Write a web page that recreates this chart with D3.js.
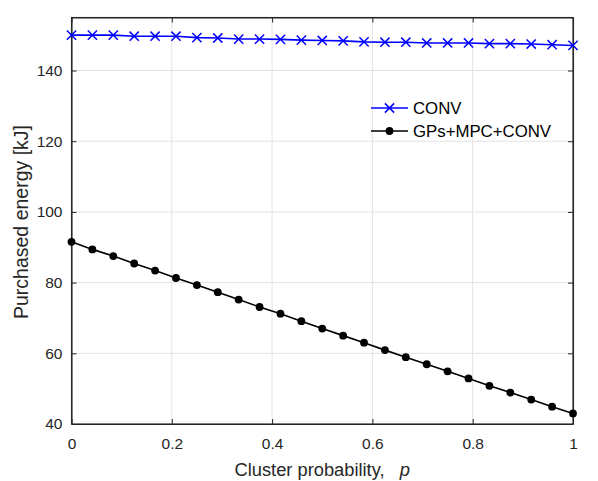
<!DOCTYPE html>
<html><head><meta charset="utf-8">
<script src="https://cdn.jsdelivr.net/npm/d3@7"></script>
<style>body{margin:0;background:#fff}svg{display:block}text{font-family:"Liberation Sans",Arial,sans-serif}</style>
</head><body>
<svg id="c" width="598" height="481"></svg>
<script>
const pValues = d3.range(25).map(i => i / 24);
const convValues = [150.0,150.0,150.0,149.7,149.7,149.7,149.3,149.2,148.9,148.9,148.8,148.6,148.5,148.4,148.1,148.0,148.0,147.8,147.8,147.8,147.6,147.6,147.5,147.3,147.1];
const gpsValues = [91.55,89.4,87.5,85.4,83.4,81.3,79.3,77.3,75.2,73.1,71.2,69.1,67.0,65.0,63.0,60.9,58.9,56.9,54.9,52.9,50.8,48.9,46.9,44.9,43.0];
const xTicks = [0,0.2,0.4,0.6,0.8,1];
const yTicks = [40,60,80,100,120,140];
const seriesNames = ["CONV","GPs+MPC+CONV"];

const svg = d3.select("#c");
const L=71.5, R=573, T=17.5, B=424;
const x = d3.scaleLinear().domain([0,1]).range([L,R]);
const y = d3.scaleLinear().domain([40,155]).range([B,T]);
const axisCol = "#262626";

// grid
svg.append("g").selectAll("line.gx").data(xTicks).join("line")
  .attr("x1",d=>x(d)).attr("x2",d=>x(d)).attr("y1",T).attr("y2",B)
  .attr("stroke","#e3e3e3").attr("stroke-width",1);
svg.append("g").selectAll("line.gy").data(yTicks).join("line")
  .attr("x1",L).attr("x2",R).attr("y1",d=>y(d)).attr("y2",d=>y(d))
  .attr("stroke","#e3e3e3").attr("stroke-width",1);

// axes
const fmt = d => d3.format("~g")(d);
const gx = svg.append("g").attr("transform",`translate(0,${B})`)
  .call(d3.axisBottom(x).tickValues(xTicks).tickFormat(fmt).tickSizeInner(-5).tickSizeOuter(0).tickPadding(14));
const gxt = svg.append("g").attr("transform",`translate(0,${T})`)
  .call(d3.axisTop(x).tickValues(xTicks).tickFormat("").tickSizeInner(-5).tickSizeOuter(0));
const gy = svg.append("g").attr("transform",`translate(${L},0)`)
  .call(d3.axisLeft(y).tickValues(yTicks).tickFormat(fmt).tickSizeInner(-5).tickSizeOuter(0).tickPadding(9));
const gyr = svg.append("g").attr("transform",`translate(${R},0)`)
  .call(d3.axisRight(y).tickValues(yTicks).tickFormat("").tickSizeInner(-5).tickSizeOuter(0));
[gx,gxt,gy,gyr].forEach(g=>{
  g.select(".domain").attr("stroke",axisCol).attr("stroke-width",1.1);
  g.selectAll(".tick line").attr("stroke",axisCol);
  g.selectAll(".tick text").attr("fill",axisCol).attr("font-size",15.5).attr("font-family","Liberation Sans, Arial, sans-serif");
});
svg.append("rect").attr("x",L).attr("y",T).attr("width",R-L).attr("height",B-T)
  .attr("fill","none").attr("stroke",axisCol).attr("stroke-width",1.1);

const line = d3.line().x((d,i)=>x(pValues[i])).y(d=>y(d));
// CONV
svg.append("path").datum(convValues).attr("d",line).attr("fill","none").attr("stroke","#0000ff").attr("stroke-width",1.6);
const xm = 4.6;
svg.append("g").selectAll("path").data(convValues).join("path")
  .attr("d",(d,i)=>{const cx=x(pValues[i]),cy=y(d);return `M${cx-xm},${cy-xm}L${cx+xm},${cy+xm}M${cx-xm},${cy+xm}L${cx+xm},${cy-xm}`;})
  .attr("stroke","#0000ff").attr("stroke-width",1.5).attr("fill","none");
// GPs
svg.append("path").datum(gpsValues).attr("d",line).attr("fill","none").attr("stroke","#000").attr("stroke-width",1.6);
svg.append("g").selectAll("circle").data(gpsValues).join("circle")
  .attr("cx",(d,i)=>x(pValues[i])).attr("cy",d=>y(d)).attr("r",3.9).attr("fill","#000");

// legend
const lg = svg.append("g");
const ly = [108,131];
lg.append("line").attr("x1",371).attr("x2",408).attr("y1",ly[0]).attr("y2",ly[0]).attr("stroke","#0000ff").attr("stroke-width",1.6);
lg.append("path").attr("d",`M${389.5-xm},${ly[0]-xm}L${389.5+xm},${ly[0]+xm}M${389.5-xm},${ly[0]+xm}L${389.5+xm},${ly[0]-xm}`).attr("stroke","#0000ff").attr("stroke-width",1.5);
lg.append("line").attr("x1",371).attr("x2",408).attr("y1",ly[1]).attr("y2",ly[1]).attr("stroke","#000").attr("stroke-width",1.6);
lg.append("circle").attr("cx",389.5).attr("cy",ly[1]).attr("r",3.9).attr("fill","#000");
seriesNames.forEach((n,i)=>{
  lg.append("text").attr("x",413).attr("y",ly[i]).attr("dy","0.36em").attr("font-size",16.8).attr("fill","#000").text(n);
});

// labels
const xl = svg.append("text").attr("x",(L+R)/2).attr("y",476).attr("text-anchor","middle").attr("font-size",18.3).attr("fill",axisCol);
xl.append("tspan").text("Cluster probability,\u00a0\u00a0\u00a0");
xl.append("tspan").attr("font-style","italic").text("p");
svg.append("text").attr("transform",`translate(28,222) rotate(-90)`).attr("text-anchor","middle")
  .attr("font-size",19.5).attr("fill",axisCol).text("Purchased energy [kJ]");
</script>
</body></html>
